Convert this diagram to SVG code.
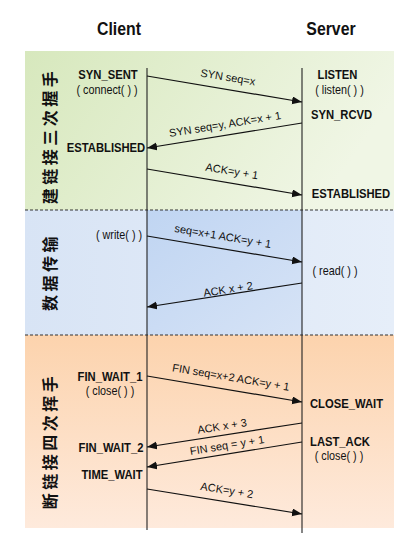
<svg xmlns="http://www.w3.org/2000/svg" width="411" height="554" viewBox="0 0 411 554">
<defs>
<linearGradient id="gGreen" x1="0" y1="0" x2="1" y2="0.3">
<stop offset="0" stop-color="#d7e8bd"/><stop offset="1" stop-color="#f0f6e5"/>
</linearGradient>
<linearGradient id="gBlue" x1="0" y1="0" x2="1" y2="0">
<stop offset="0" stop-color="#d8e4f5"/><stop offset="1" stop-color="#e6eef9"/>
</linearGradient>
<linearGradient id="gBlueMid" x1="0" y1="0" x2="1" y2="1">
<stop offset="0" stop-color="#c0d5f2"/><stop offset="1" stop-color="#d6e3f6"/>
</linearGradient>
<linearGradient id="gOrange" x1="0" y1="0" x2="0" y2="1">
<stop offset="0" stop-color="#fcd3ad"/><stop offset="1" stop-color="#feeadc"/>
</linearGradient>
<marker id="ah" markerUnits="userSpaceOnUse" markerWidth="11" markerHeight="9" refX="10" refY="4" orient="auto">
<path d="M0,0 L10,4 L0,8 z" fill="#111"/>
</marker>
<style>
.title{font-family:"Liberation Sans",Arial,sans-serif;font-weight:bold;font-size:18px;fill:#111;text-anchor:middle}
.st{font-family:"Liberation Sans",Arial,sans-serif;font-weight:bold;font-size:12.5px;fill:#111;text-anchor:middle}
.fn{font-family:"Liberation Sans",Arial,sans-serif;font-size:12px;fill:#111;text-anchor:middle}
.lb{font-family:"Liberation Sans",Arial,sans-serif;font-size:11px;fill:#111;text-anchor:middle}
.cn{font-family:"Noto Sans CJK SC",sans-serif;font-weight:bold;font-size:16px;fill:#111;text-anchor:middle;letter-spacing:3.5px}
.life{stroke:#222;stroke-width:1.1;fill:none}
.msg{stroke:#111;stroke-width:1.2;fill:none;marker-end:url(#ah)}
.sep{stroke:#333;stroke-width:1.2;stroke-dasharray:3 2;fill:none}
</style>
</defs>
<rect width="411" height="554" fill="#ffffff"/>
<g id="panels">
<rect x="25" y="51" width="369" height="159" fill="url(#gGreen)"/>
<rect x="25" y="210" width="369" height="125" fill="url(#gBlue)"/>
<rect x="147" y="210" width="155" height="125" fill="url(#gBlueMid)"/>
<rect x="25" y="335" width="369" height="193" fill="url(#gOrange)"/>
<line class="sep" x1="25" y1="210" x2="394" y2="210"/>
<line class="sep" x1="25" y1="335" x2="394" y2="335"/>
</g>
<g id="titles">
<text class="title" transform="translate(119 35) scale(0.88 1)">Client</text>
<text class="title" transform="translate(331 35) scale(0.88 1)">Server</text>
</g>
<g id="phases">
<text class="cn" transform="translate(56 136) rotate(-90)">建链接三次握手</text>
<text class="cn" transform="translate(56 272) rotate(-90)">数据传输</text>
<text class="cn" transform="translate(56 441) rotate(-90)">断链接四次挥手</text>
</g>
<g id="lifelines">
<line class="life" x1="147" y1="68" x2="147" y2="530"/>
<line class="life" x1="302" y1="68" x2="302" y2="533"/>
</g>
<g id="client-states">
<text class="st" transform="translate(108 79) scale(0.9 1)">SYN_SENT</text>
<text class="fn" transform="translate(107 94) scale(0.9 1)">( connect( ) )</text>
<text class="st" transform="translate(106 152) scale(0.9 1)">ESTABLISHED</text>
<text class="fn" transform="translate(119 239) scale(0.9 1)">( write( ) )</text>
<text class="st" transform="translate(110 381) scale(0.9 1)">FIN_WAIT_1</text>
<text class="fn" transform="translate(110 395) scale(0.9 1)">( close( ) )</text>
<text class="st" transform="translate(111 452) scale(0.9 1)">FIN_WAIT_2</text>
<text class="st" transform="translate(112 479) scale(0.9 1)">TIME_WAIT</text>
</g>
<g id="server-states">
<text class="st" transform="translate(337.5 79) scale(0.9 1)">LISTEN</text>
<text class="fn" transform="translate(339.5 94) scale(0.9 1)">( listen( ) )</text>
<text class="st" transform="translate(341.5 119) scale(0.9 1)">SYN_RCVD</text>
<text class="st" transform="translate(351 198) scale(0.9 1)">ESTABLISHED</text>
<text class="fn" transform="translate(335 275) scale(0.9 1)">( read( ) )</text>
<text class="st" transform="translate(346.5 408) scale(0.9 1)">CLOSE_WAIT</text>
<text class="st" transform="translate(340 446) scale(0.9 1)">LAST_ACK</text>
<text class="fn" transform="translate(339 460) scale(0.9 1)">( close( ) )</text>
</g>
<g id="connectors">
<line class="msg" x1="147" y1="76" x2="302" y2="102"/>
<line class="msg" x1="302" y1="123" x2="147" y2="148"/>
<line class="msg" x1="147" y1="169" x2="302" y2="195"/>
<line class="msg" x1="147" y1="236" x2="302" y2="262"/>
<line class="msg" x1="302" y1="283" x2="147" y2="307"/>
<line class="msg" x1="147" y1="376" x2="302" y2="402"/>
<line class="msg" x1="302" y1="423" x2="147" y2="447"/>
<line class="msg" x1="302" y1="442" x2="147" y2="467"/>
<line class="msg" x1="147" y1="489" x2="302" y2="514"/>
<text class="lb" transform="translate(228 77) rotate(9.5)" y="4">SYN seq=x</text>
<text class="lb" transform="translate(225 124) rotate(-9.2)" y="4">SYN seq=y, ACK=x + 1</text>
<text class="lb" transform="translate(232 171) rotate(9.5)" y="4">ACK=y + 1</text>
<text class="lb" transform="translate(223 236) rotate(9.5)" y="4">seq=x+1 ACK=y + 1</text>
<text class="lb" transform="translate(228 289) rotate(-8.9)" y="4">ACK x + 2</text>
<text class="lb" transform="translate(231 377) rotate(9.5)" y="4">FIN seq=x+2 ACK=y + 1</text>
<text class="lb" transform="translate(222 426) rotate(-8.9)" y="4">ACK x + 3</text>
<text class="lb" transform="translate(227 445) rotate(-9.2)" y="4">FIN seq = y + 1</text>
<text class="lb" transform="translate(227 490) rotate(9.2)" y="4">ACK=y + 2</text>
</g>
</svg>
